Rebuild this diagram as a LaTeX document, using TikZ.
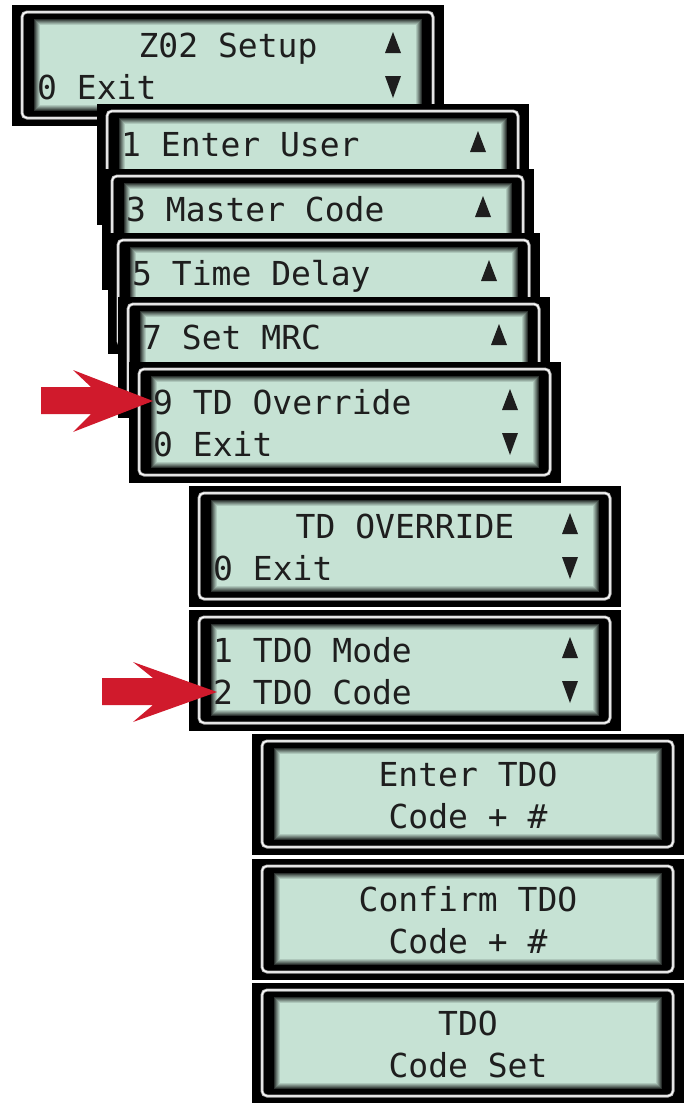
\documentclass[tikz,border=0pt]{standalone}
\usepackage{fontspec}
\newfontfamily\lcdfont{DejaVu Sans Mono}
\usepackage{tikz}
\definecolor{lcdgreen}{RGB}{198,226,212}
\definecolor{lcdink}{RGB}{30,30,30}
\definecolor{markred}{RGB}{208,26,44}
\tikzstyle{lcdtext}  = [font=\lcdfont\fontsize{33}{40}\selectfont,text=lcdink,inner sep=0pt]
\tikzstyle{rimouter} = [draw=gray!60,line width=3pt,rounded corners=5pt]
\tikzstyle{riminner} = [draw=white,line width=1.2pt,rounded corners=5pt]
\tikzstyle{pointer}  = [fill=markred]

% one display, top left corner at (#1,#2)
\newcommand{\lcdbox}[2]{%
  \fill[black] (#1,#2) rectangle ++(432,121);
  \draw[rimouter] ({#1+10},{#2+7}) rectangle ({#1+421},{#2+113});
  \draw[riminner] ({#1+10},{#2+7}) rectangle ({#1+421},{#2+113});
  \foreach \k in {0,...,7}{
    \pgfmathtruncatemacro{\mixpct}{100*(\k/7)^0.8}
    \fill[lcdgreen!\mixpct!black] ({#1+21+\k},{#2+13+\k}) rectangle ({#1+411-\k},{#2+107-\k});
  }}
\newcommand{\uptri}[2]{\fill[lcdink] ({#1+373},{#2+48}) -- ({#1+389},{#2+48}) -- ({#1+381},{#2+27}) -- cycle;}
\newcommand{\downtri}[2]{\fill[lcdink] ({#1+373},{#2+71}) -- ({#1+389},{#2+71}) -- ({#1+381},{#2+93}) -- cycle;}

\begin{document}
\begin{tikzpicture}[x=1pt,y=-1pt]
  \useasboundingbox (0,0) rectangle (685,1103);
  % setup menu
  \lcdbox{12}{5}
  \node[lcdtext,anchor=base](setup)at(228,57){Z02 Setup};
  \node[lcdtext,anchor=base west](setupexit)at(37,99){0 Exit};
  \uptri{12}{5} \downtri{12}{5}
  \lcdbox{97}{104}
  \node[lcdtext,anchor=base west](enteruser)at(121,156){1 Enter User};
  \uptri{97}{104}
  \lcdbox{102}{169}
  \node[lcdtext,anchor=base west](mastercode)at(126,221){3 Master Code};
  \uptri{102}{169}
  \lcdbox{108}{233}
  \node[lcdtext,anchor=base west](timedelay)at(132,285){5 Time Delay};
  \uptri{108}{233}
  \lcdbox{118}{297}
  \node[lcdtext,anchor=base west](setmrc)at(142,349){7 Set MRC};
  \uptri{118}{297}
  \lcdbox{129}{362}
  \node[lcdtext,anchor=base west](tdoverride)at(153,414){9 TD Override};
  \node[lcdtext,anchor=base west](overexit)at(153,456){0 Exit};
  \uptri{129}{362} \downtri{129}{362}
  % TD override menu
  \lcdbox{189}{486}
  \node[lcdtext,anchor=base](tdotitle)at(405,538){TD OVERRIDE};
  \node[lcdtext,anchor=base west](tdoexit)at(213,580){0 Exit};
  \uptri{189}{486} \downtri{189}{486}
  \lcdbox{189}{610}
  \node[lcdtext,anchor=base west](tdomode)at(213,662){1 TDO Mode};
  \node[lcdtext,anchor=base west](tdocode)at(213,704){2 TDO Code};
  \uptri{189}{610} \downtri{189}{610}
  % code entry
  \lcdbox{252}{734}
  \node[lcdtext,anchor=base](entera)at(468,786){Enter TDO};
  \node[lcdtext,anchor=base](enterb)at(468,828){Code + \#};
  \lcdbox{252}{859}
  \node[lcdtext,anchor=base](confirma)at(468,911){Confirm TDO};
  \node[lcdtext,anchor=base](confirmb)at(468,953){Code + \#};
  \lcdbox{252}{983}
  \node[lcdtext,anchor=base](codeseta)at(468,1035){TDO};
  \node[lcdtext,anchor=base](codesetb)at(468,1077){Code Set};
  % red pointers
  \coordinate(tipa)at(153,401);
  \coordinate(tipb)at(217,692);
  \fill[pointer](tipa)--++(-80,-31)--++(18,17)--++(-50,0)--++(0,27)--++(50,0)--++(-18,18)--cycle;
  \fill[pointer](tipb)--++(-84,-30)--++(20,16)--++(-51,0)--++(0,27)--++(51,0)--++(-20,17)--cycle;
\end{tikzpicture}
\end{document}
